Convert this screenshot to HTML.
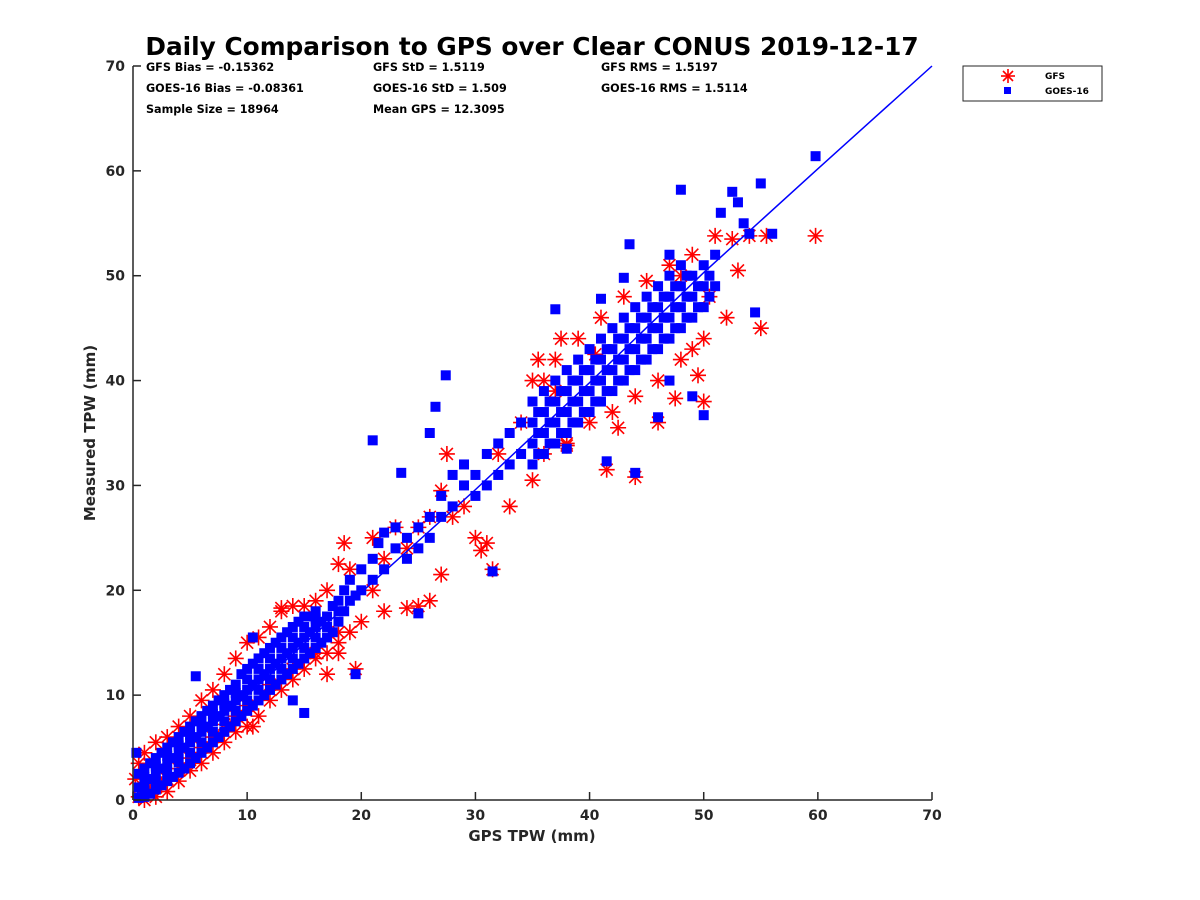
<!DOCTYPE html>
<html><head><meta charset="utf-8"><style>
body{margin:0;background:#fff}
svg{display:block;font-family:"DejaVu Sans","Liberation Sans",sans-serif}
</style></head><body>
<svg id="chart" width="1200" height="900">
<text x="532" y="55" text-anchor="middle" font-size="24.8" font-weight="bold" fill="#000">Daily Comparison to GPS over Clear CONUS 2019-12-17</text>
<g font-size="11.2" font-weight="bold" fill="#000">
<text x="146" y="71">GFS Bias = -0.15362</text>
<text x="146" y="92">GOES-16 Bias = -0.08361</text>
<text x="146" y="113">Sample Size = 18964</text>
<text x="373" y="71">GFS StD = 1.5119</text>
<text x="373" y="92">GOES-16 StD = 1.509</text>
<text x="373" y="113">Mean GPS = 12.3095</text>
<text x="601" y="71">GFS RMS = 1.5197</text>
<text x="601" y="92">GOES-16 RMS = 1.5114</text>
</g>
<g id="marks"></g>
<g id="axes"></g>
<text x="532" y="841" text-anchor="middle" font-size="15" font-weight="bold" fill="#262626">GPS TPW (mm)</text>
<text transform="translate(95,433) rotate(-90)" text-anchor="middle" font-size="15" font-weight="bold" fill="#262626">Measured TPW (mm)</text>
<g>
<rect x="963" y="66" width="139" height="35" fill="#fff" stroke="#262626" stroke-width="1"/>
<g>
<g stroke="#f00" stroke-width="1.6" transform="translate(1008,76)"><line x1="-7" y1="0" x2="7" y2="0"/><line x1="0" y1="-7" x2="0" y2="7"/><line x1="-5" y1="-5" x2="5" y2="5"/><line x1="-5" y1="5" x2="5" y2="-5"/></g>
<text x="1045" y="79" font-size="9" font-weight="bold">GFS</text></g>
<g>
<rect x="1004" y="87" width="7" height="7" fill="#00f"/>
<text x="1045" y="94" font-size="9" font-weight="bold">GOES-16</text></g>
</g>
</svg>
<script>
const xTicks=[0,10,20,30,40,50,60,70];
const yTicks=[0,10,20,30,40,50,60,70];
const gfsPts=[[0.5,0.3],[1,0.5],[1.5,1],[2,1.2],[2.5,1.5],[3,2],[4,3],[5,4],[6,5],[7,6],[8,7.2],[9,8],[10,9],[10.5,7],[12,11],[14,12.5],[16,14],[18,16],[13,18.3],[15,18.5],[17,12],[18,14],[18.5,24.5],[19,22],[19.5,12.5],[21,20],[22,18],[23,26],[24,18.3],[25,18.5],[26,19],[27,21.5],[24,24],[25,26],[26,27],[27,29.5],[27.5,33],[28,27],[29,28],[30,25],[30.5,23.8],[31,24.5],[31.5,22],[32,33],[33,28],[34,36],[35,30.5],[35.5,42],[36,40],[37,39],[37.5,44],[38,33.8],[40.5,42.5],[41.5,31.5],[42.5,35.5],[44,30.8],[46,36],[47.5,38.3],[48,50],[49,43],[49.5,40.5],[50,38],[50.5,48],[51,53.8],[52,46],[52.5,53.5],[53,50.5],[54,53.8],[55,45],[55.5,53.8],[59.8,53.8],[22,23],[21,25],
[1,0],[2,0.3],[3,0.8],[4,1.8],[5,2.8],[6,3.5],[7,4.5],[8,5.5],[9,6.5],[10,7],[11,8],[12,9.5],[13,10.5],[14,11.5],[15,12.5],[16,13.5],[17,14],[18,15],[19,16],[20,17],
[0.2,2],[0.5,3.5],[1,4.5],[2,5.5],[3,6],[4,7],[5,8],[6,9.5],[7,10.5],[8,12],[9,13.5],[10,15],[11,15.5],[12,16.5],[13,18],[14,18.5],[16,19],[17,20],[18,22.5],
[36,33],[38,34],[40,36],[42,37],[44,38.5],[46,40],[48,42],[50,44],[35,40],[37,42],[39,44],[41,46],[43,48],[45,49.5],[47,51],[49,52]];
const goesPts=[[0.5,0.2],[0.5,1.2],[0.5,2.5],[1,0.3],[1,1.5],[1,3],[1.5,0.6],[1.5,2],[1.5,3.5],[2,1],[2,2.5],[2,4],[2.5,1.4],[2.5,3],[2.5,4.5],[3,1.8],[3,3.5],[3,5],[3.5,2.2],[3.5,4],[3.5,5.5],[4,2.6],[4,4.5],[4,6],[4.5,3],[4.5,5],[4.5,6.5],[5,3.5],[5,5.5],[5,7],[5.5,4],[5.5,6],[5.5,7.5],[6,4.5],[6,6.5],[6,8],[6.5,5],[6.5,7],[6.5,8.5],[7,5.5],[7,7.5],[7,9],[7.5,6],[7.5,8],[7.5,9.5],[8,6.5],[8,8.5],[8,10],[8.5,7],[8.5,9],[8.5,10.5],[9,7.5],[9,9.5],[9,11],[9.5,8],[9.5,10],[9.5,12],[10,8.5],[10,10.5],[10,12.5],[10.5,9],[10.5,11],[10.5,13],[11,9.5],[11,11.5],[11,13.5],[11.5,10],[11.5,12],[11.5,14],[12,10.5],[12,12.5],[12,14.5],[12.5,11],[12.5,13],[12.5,15],[13,11.5],[13,13.5],[13,15.5],[13.5,12],[13.5,14],[13.5,16],[14,12.5],[14,14.5],[14,16.5],[14.5,13],[14.5,15],[14.5,17],[15,13.5],[15,15.5],[15,17.5],[15.5,14],[15.5,16],[15.5,17.5],[16,14.5],[16,16.5],[16,18],[16.5,15],[16.5,17],[17,15.5],[17,17.5],[17.5,16],[17.5,18.5],[18,17],[18,19],[18.5,18],[18.5,20],[19,19],[19,21],[19.5,19.5],[20,20],[20,22],[21,21],[21,23],[21.5,24.5],[22,22],[22,25.5],[23,24],[23,26],[24,23],[24,25],[25,24],[25,26],[26,25],[26,27],[27,27],[27,29],[28,28],[28,31],[29,30],[29,32],[30,29],[30,31],[31,30],[31,33],[32,31],[32,34],[33,32],[33,35],[34,33],[34,36],
[1,0.9],[1,2.2],[2,1.8],[2,3.2],[3,2.6],[3,4.2],[4,3.6],[4,5.2],[5,4.5],[5,6.2],[6,5.5],[6,7.2],[7,6.5],[7,8.2],[8,7.5],[8,9.2],[9,8.5],[9,10.2],[10,9.5],[10,11.5],[11,10.5],[11,12.5],[12,11.5],[12,13.5],[13,12.5],[13,14.5],[14,13.5],[14,15.5],[15,14.5],[15,16.5],[16,15.5],[16,17.3],[17,16.5],[18,18],
[35,32],[35,34],[35,36],[35,38],[36,33],[36,35],[36,37],[36,39],[37,34],[37,36],[37,38],[37,40],[38,35],[38,37],[38,39],[38,41],[39,36],[39,38],[39,40],[39,42],[40,37],[40,39],[40,41],[40,43],[41,38],[41,40],[41,42],[41,44],[42,39],[42,41],[42,43],[42,45],[43,40],[43,42],[43,44],[43,46],[44,41],[44,43],[44,45],[44,47],[45,42],[45,44],[45,46],[45,48],[46,43],[46,45],[46,47],[46,49],[47,44],[47,46],[47,48],[47,50],[48,45],[48,47],[48,49],[48,51],[49,46],[49,48],[49,50],[50,47],[50,49],[50,51],[51,49],[51,52],
[35.5,33],[35.5,35],[35.5,37],[36.5,34],[36.5,36],[36.5,38],[37.5,35],[37.5,37],[37.5,39],[38.5,36],[38.5,38],[38.5,40],[39.5,37],[39.5,39],[39.5,41],[40.5,38],[40.5,40],[40.5,42],[41.5,39],[41.5,41],[41.5,43],[42.5,40],[42.5,42],[42.5,44],[43.5,41],[43.5,43],[43.5,45],[44.5,42],[44.5,44],[44.5,46],[45.5,43],[45.5,45],[45.5,47],[46.5,44],[46.5,46],[46.5,48],[47.5,45],[47.5,47],[47.5,49],[48.5,46],[48.5,48],[48.5,50],[49.5,47],[49.5,49],[50.5,48],[50.5,50],
[27.4,40.5],[26.5,37.5],[21,34.3],[23.5,31.2],[26,35],[37,46.8],[41,47.8],[43,49.8],[43.5,53],[47,52],[48,58.2],[51.5,56],[52.5,58],[53,57],[53.5,55],[54,54],[55,58.8],[54.5,46.5],[50,36.7],[56,54],[59.8,61.4],[5.5,11.8],[15,8.3],[14,9.5],[19.5,12],[25,17.8],[31.5,21.8],[41.5,32.3],[44,31.2],[47,40],[49,38.5],[38,33.5],[46,36.5],[0.3,4.5],[10.5,15.5]];
const fitX=[0,10,20,30,40,50,60,70];
const fitY=[0.3,10,19.8,29.6,39.8,50.3,60.2,70];
const X0=133,X1=932,Y0=800,Y1=66;
const sx=v=>X0+(X1-X0)*v/70, sy=v=>Y0-(Y0-Y1)*v/70;
const NS="http://www.w3.org/2000/svg";
const marks=document.getElementById('marks'), axes=document.getElementById('axes');
function mk(t,a,p){const e=document.createElementNS(NS,t);for(const k in a)e.setAttribute(k,a[k]);p.appendChild(e);return e;}
const gfsG=mk('g',{stroke:'#f00','stroke-width':1.6},marks);


gfsPts.forEach(p=>{const cx=sx(p[0]),cy=sy(p[1]);
const g=mk('g',{transform:`translate(${cx},${cy})`},gfsG);


mk('line',{x1:-8,y1:0,x2:8,y2:0},g);mk('line',{x1:0,y1:-8,x2:0,y2:8},g);
mk('line',{x1:-6,y1:-6,x2:6,y2:6},g);mk('line',{x1:-6,y1:6,x2:6,y2:-6},g);});
const goesG=mk('g',{fill:'#00f'},marks);


goesPts.forEach(p=>{const r=mk('rect',{x:sx(p[0])-5,y:sy(p[1])-5,width:10,height:10},goesG);

});
const fit=mk('polyline',{points:fitX.map((x,i)=>sx(x)+','+sy(fitY[i])).join(' '),fill:'none',stroke:'#00f','stroke-width':1.5},marks);


mk('line',{x1:X0,y1:Y0,x2:X1,y2:Y0,stroke:'#262626','stroke-width':1.5},axes);
mk('line',{x1:X0,y1:Y0,x2:X0,y2:Y1,stroke:'#262626','stroke-width':1.5},axes);
xTicks.forEach(v=>{mk('line',{x1:sx(v),y1:Y0,x2:sx(v),y2:Y0-8,stroke:'#262626','stroke-width':1.5},axes);
const t=mk('text',{x:sx(v),y:Y0+20,'text-anchor':'middle','font-size':14,'font-weight':'bold',fill:'#262626'},axes);t.textContent=v;

});
yTicks.forEach(v=>{mk('line',{x1:X0,y1:sy(v),x2:X0+8,y2:sy(v),stroke:'#262626','stroke-width':1.5},axes);
const t=mk('text',{x:X0-8,y:sy(v)+5,'text-anchor':'end','font-size':14,'font-weight':'bold',fill:'#262626'},axes);t.textContent=v;

});
</script>
</body></html>
